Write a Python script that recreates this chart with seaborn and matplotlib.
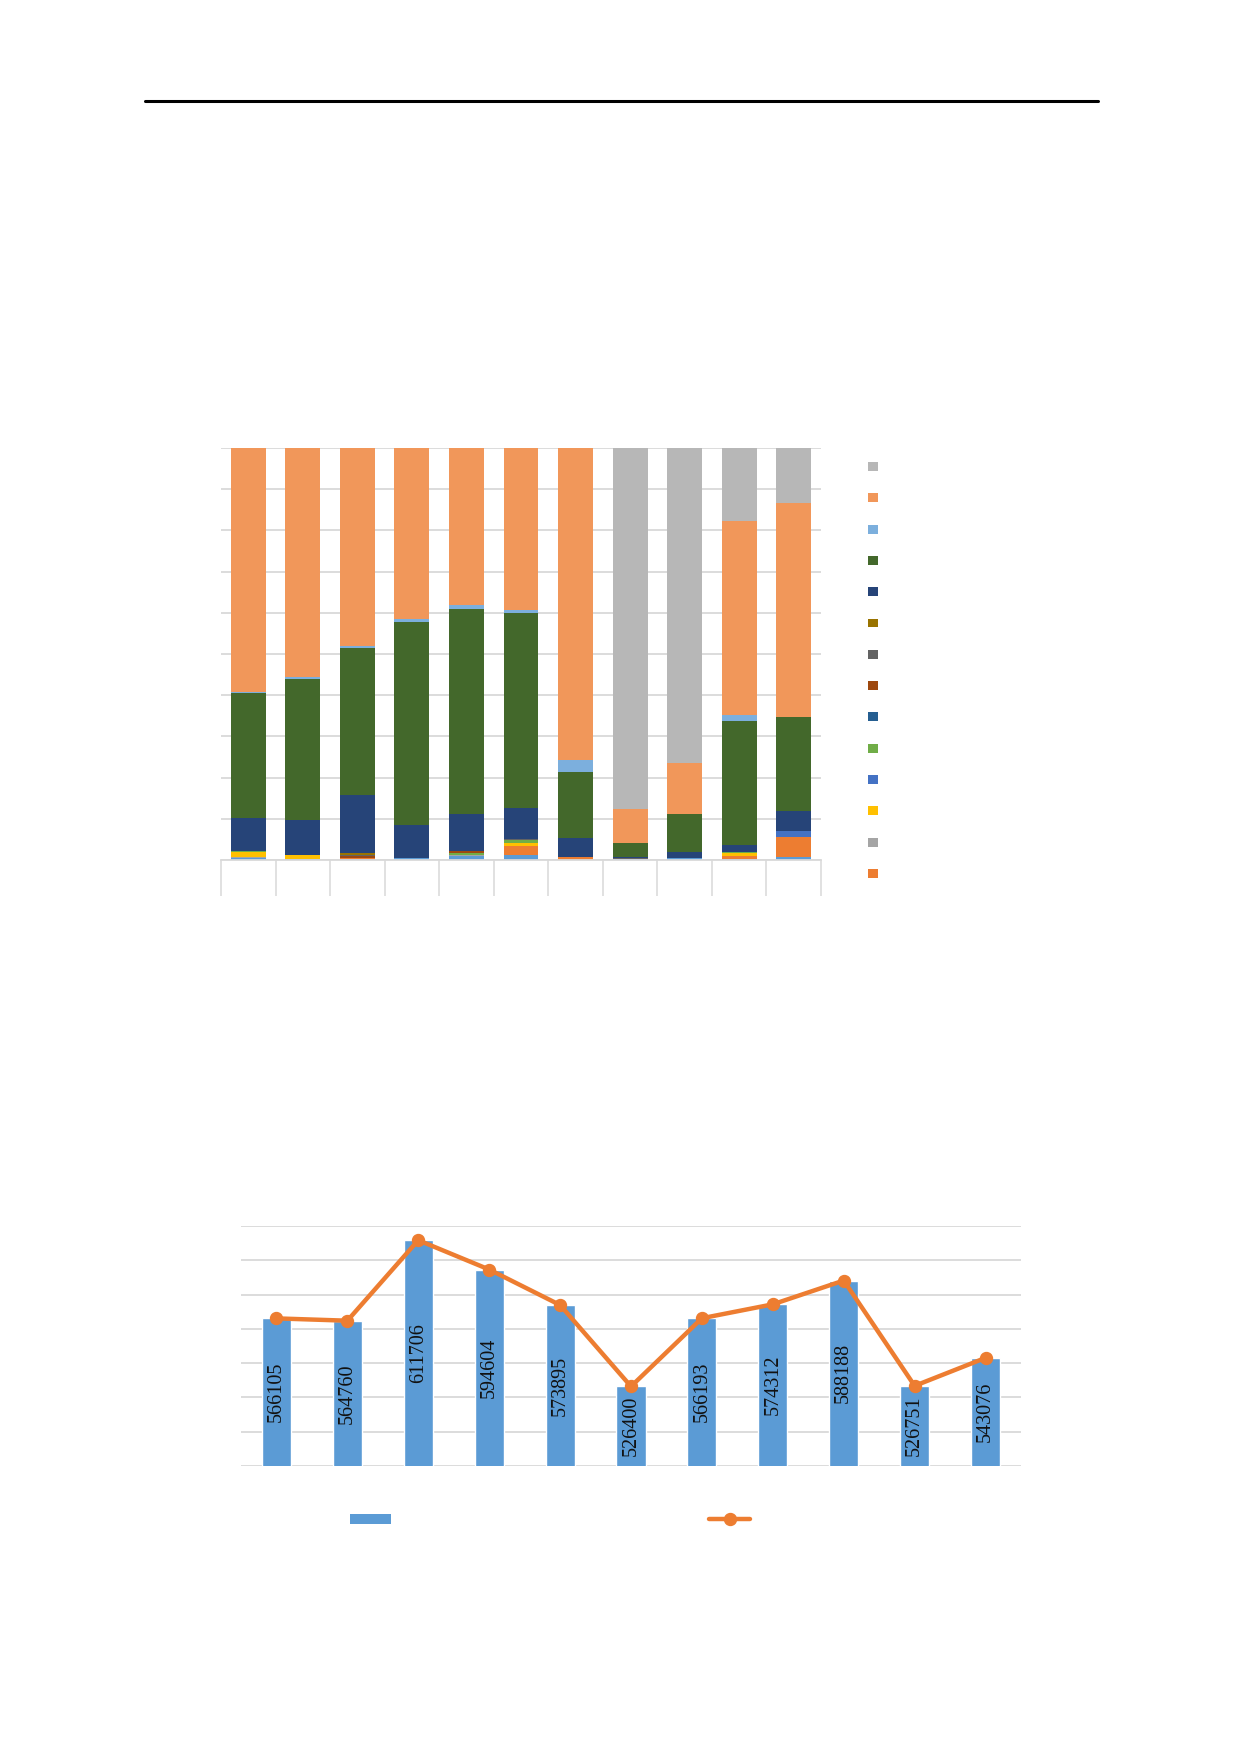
import numpy as np
import pandas as pd
import matplotlib
matplotlib.use("Agg")
import matplotlib.pyplot as plt
import seaborn as sns
from matplotlib.lines import Line2D
from matplotlib.patches import Patch

# stacked share chart (11 bars, 15 series, percent of bar)
bars = list(range(11))
s01 = [0.5, 0.2, 0.3, 0.6, 1.0, 1.2, 0.0, 0.2, 0.4, 0.3, 0.7]
s02 = [0.0, 0.0, 0.3, 0.0, 0.0, 2.3, 0.7, 0.0, 0.0, 0.6, 5.0]
s03 = [0.3, 0.0, 0.0, 0.0, 0.3, 0.0, 0.0, 0.0, 0.0, 0.0, 0.0]
s04 = [1.2, 1.0, 0.0, 0.0, 0.0, 0.7, 0.0, 0.0, 0.0, 0.8, 0.0]
s05 = [0.0, 0.0, 0.0, 0.0, 0.0, 0.0, 0.0, 0.0, 0.0, 0.0, 1.4]
s06 = [0.3, 0.0, 0.0, 0.0, 0.5, 0.6, 0.0, 0.0, 0.0, 0.3, 0.0]
s07 = [0.0, 0.0, 0.0, 0.0, 0.0, 0.0, 0.0, 0.0, 0.0, 0.0, 0.0]
s08 = [0.0, 0.0, 0.3, 0.0, 0.5, 0.0, 0.0, 0.0, 0.0, 0.0, 0.0]
s09 = [0.0, 0.0, 0.4, 0.0, 0.0, 0.4, 0.0, 0.2, 0.0, 0.0, 0.0]
s10 = [0.0, 0.0, 0.3, 0.0, 0.0, 0.0, 0.0, 0.0, 0.0, 0.0, 0.0]
s11 = [7.8, 8.5, 14.2, 7.9, 8.9, 7.3, 4.6, 0.3, 1.6, 1.6, 4.9]
s12 = [30.4, 34.3, 35.7, 49.3, 49.7, 47.5, 16.0, 3.5, 9.1, 30.1, 22.7]
s13 = [0.2, 0.5, 0.5, 0.6, 1.1, 0.6, 2.9, 0.0, 0.0, 1.6, 0.0]
s14 = [59.3, 55.5, 48.0, 41.6, 38.0, 39.4, 75.8, 8.1, 12.5, 46.9, 51.9]
s15 = [0.0, 0.0, 0.0, 0.0, 0.0, 0.0, 0.0, 87.7, 76.4, 17.8, 13.4]

series_names = ["s01", "s02", "s03", "s04", "s05", "s06", "s07", "s08",
                "s09", "s10", "s11", "s12", "s13", "s14", "s15"]
series_values = [s01, s02, s03, s04, s05, s06, s07, s08,
                 s09, s10, s11, s12, s13, s14, s15]
series_colors = ["#5B9BD5", "#ED7D31", "#A5A5A5", "#FFC000", "#4472C4",
                 "#70AD47", "#255E91", "#9E480E", "#636363", "#997300",
                 "#264478", "#43682B", "#7CAFDD", "#F1975A", "#B7B7B7"]

# bar + line chart
bar_values = [566105, 564760, 611706, 594604, 573895, 526400,
              566193, 574312, 588188, 526751, 543076]
line_values = [566105, 564760, 611706, 594604, 573895, 526400,
               566193, 574312, 588188, 526751, 543076]

W, H = 1240, 1754
GRID = "#D9D9D9"

sns.set_style("white")
plt.rcParams["font.family"] = ["Liberation Serif", "DejaVu Serif"]

fig = plt.figure(figsize=(W / 100, H / 100), dpi=100)

# header rule
fig.add_artist(Line2D([145 / W, 1098 / W], [1 - 101 / H, 1 - 101 / H],
                      color="black", lw=2.2))

# ---- chart 1: 100% stacked columns ----
ax1 = fig.add_axes([221 / W, 1 - 860 / H, 600 / W, 412 / H])
rows = []
for name, vals in zip(series_names, series_values):
    for b, v in zip(bars, vals):
        rows.append({"bar": b, "series": name, "value": v})
df = pd.DataFrame(rows)

sns.histplot(
    data=df, x="bar", weights="value", hue="series",
    hue_order=series_names[::-1],
    palette=dict(zip(series_names, series_colors)),
    multiple="fill", discrete=True, shrink=0.64,
    alpha=1, linewidth=0, legend=False, ax=ax1,
)
ax1.set_xlim(-0.5, 10.5)
ax1.set_ylim(0, 1)
ax1.set_yticks(np.arange(0, 1.01, 0.1))
ax1.yaxis.grid(True, color=GRID, lw=1.3)
ax1.set_axisbelow(True)
ax1.set_xticks(np.arange(-0.5, 11, 1))
ax1.tick_params(axis="x", bottom=True, direction="out", length=26, width=1.1,
                color=GRID, labelbottom=False)
ax1.tick_params(axis="y", left=False, labelleft=False)
ax1.set_xlabel("")
ax1.set_ylabel("")
for side in ["top", "right", "left"]:
    ax1.spines[side].set_visible(False)
ax1.spines["bottom"].set_color(GRID)
ax1.spines["bottom"].set_linewidth(1.3)

leg_handles = [Patch(facecolor=c, edgecolor="none") for c in series_colors[1:][::-1]]
fig.legend(leg_handles, [""] * len(leg_handles), loc="upper left",
           bbox_to_anchor=(868 / W, 1 - 462 / H), frameon=False,
           fontsize=7.2, handlelength=1.0, handleheight=1.0,
           labelspacing=2.14, borderpad=0, borderaxespad=0, handletextpad=0)

# ---- chart 2: columns + line ----
ax2 = fig.add_axes([241 / W, 1 - 1466 / H, 780 / W, 240 / H])
cats = [str(i) for i in range(len(bar_values))]
sns.barplot(x=cats, y=bar_values, color="#5B9BD5", saturation=1,
            width=0.41, ax=ax2)
ax2.plot(range(len(line_values)), line_values, color="#ED7D31", lw=3.2,
         marker="o", ms=8.6, zorder=4)
ymin, ymax = 480000, 620000
ax2.set_ylim(ymin, ymax)
ax2.set_xlim(-0.5, 10.5)
ax2.set_yticks(np.arange(ymin, ymax + 1, 20000))
ax2.yaxis.grid(True, color=GRID, lw=1.3)
ax2.set_axisbelow(True)
ax2.tick_params(left=False, bottom=False, labelleft=False, labelbottom=False)
for side in ["top", "right", "left", "bottom"]:
    ax2.spines[side].set_visible(False)
for i, v in enumerate(bar_values):
    ax2.text(i, (ymin + v) / 2, str(v), rotation=90, ha="center", va="center",
             fontsize=14.5, color="#111111", zorder=5)

leg2_handles = [Patch(facecolor="#5B9BD5", edgecolor="none"),
                Line2D([], [], color="#ED7D31", lw=3.2, marker="o", ms=8.6)]
fig.legend(leg2_handles, ["", ""], loc="center left", ncol=2,
           bbox_to_anchor=(350 / W, 1 - 1520 / H), frameon=False,
           fontsize=10, handlelength=2.95, handleheight=0.72,
           handletextpad=0, columnspacing=22.9, borderpad=0, borderaxespad=0)

fig.savefig("out.png", dpi=100, facecolor="white")
